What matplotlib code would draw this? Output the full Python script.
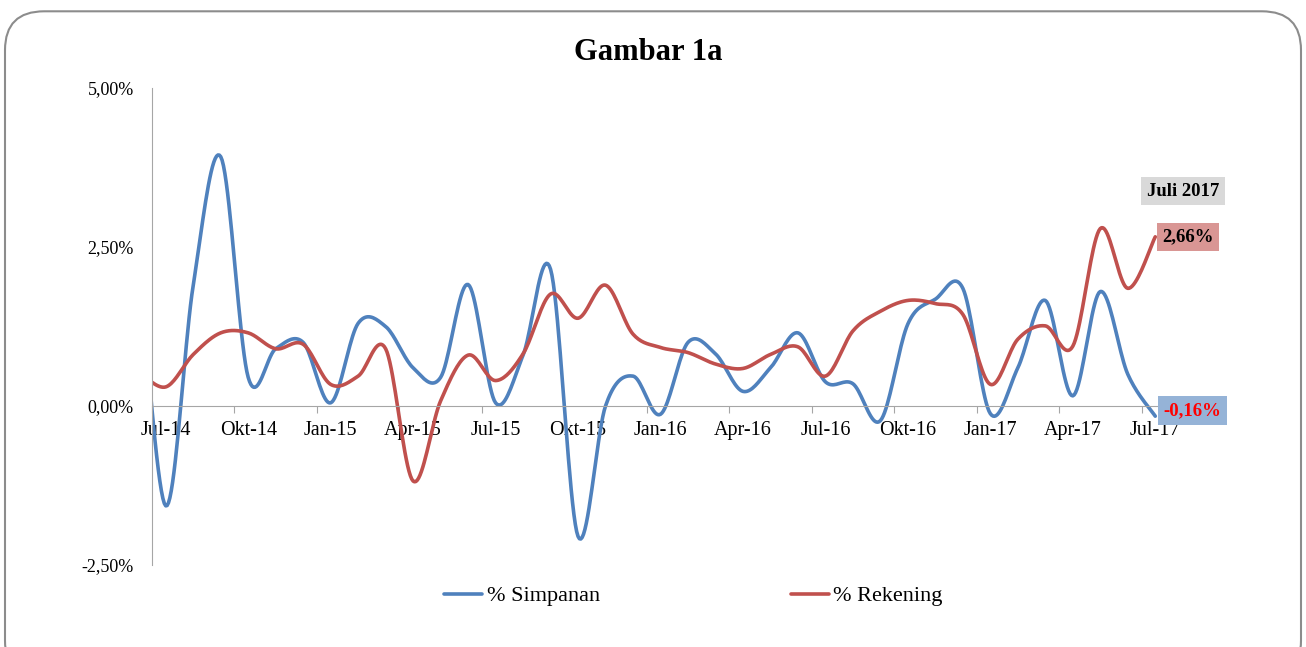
import numpy as np
import matplotlib
matplotlib.use("Agg")
import matplotlib.pyplot as plt
from matplotlib.patches import FancyBboxPatch

months = ["Jul-14","Agu-14","Sep-14","Okt-14","Nov-14","Des-14","Jan-15","Feb-15","Mar-15",
          "Apr-15","Mei-15","Jun-15","Jul-15","Agu-15","Sep-15","Okt-15","Nov-15","Des-15",
          "Jan-16","Feb-16","Mar-16","Apr-16","Mei-16","Jun-16","Jul-16","Agu-16","Sep-16",
          "Okt-16","Nov-16","Des-16","Jan-17","Feb-17","Mar-17","Apr-17","Mei-17","Jun-17","Jul-17"]

# value of the month before Jul-14 (line enters the plot from the left edge)
simpanan_prev = 2.48
rekening_prev = 0.55

simpanan = [-1.57, 1.9, 3.92, 0.45, 0.9, 1.0, 0.05, 1.3, 1.25, 0.6, 0.45, 1.91,
            0.05, 0.8, 2.15, -2.05, 0.0, 0.47, -0.13, 1.0, 0.82, 0.23, 0.6, 1.15,
            0.38, 0.35, -0.23, 1.29, 1.68, 1.85, -0.12, 0.6, 1.66, 0.16, 1.8, 0.5, -0.16]

rekening = [0.3, 0.81, 1.15, 1.15, 0.9, 0.97, 0.34, 0.47, 0.9, -1.18, 0.08, 0.8,
            0.4, 0.82, 1.76, 1.38, 1.9, 1.13, 0.92, 0.84, 0.66, 0.59, 0.81, 0.93,
            0.47, 1.18, 1.49, 1.66, 1.61, 1.44, 0.34, 1.05, 1.26, 0.94, 2.79, 1.85, 2.66]

yticks = [-2.5, 0.0, 2.5, 5.0]
ytick_labels = ["-2,50%", "0,00%", "2,50%", "5,00%"]
xlabel_idx = list(range(0, 37, 3))

BLUE = "#4F81BD"
RED = "#C0504D"


def smooth(xs, ys, n=20):
    """Excel-like smoothed line (uniform Catmull-Rom / Bezier with 1/6 tension)."""
    xs = np.asarray(xs, float)
    ys = np.asarray(ys, float)
    P = np.column_stack([xs, ys])
    P = np.vstack([P[0], P, P[-1]])
    out = []
    t = np.linspace(0, 1, n, endpoint=False)[:, None]
    for i in range(1, len(P) - 2):
        p0, p1, p2, p3 = P[i - 1], P[i], P[i + 1], P[i + 2]
        c1 = p1 + (p2 - p0) / 6.0
        c2 = p2 - (p3 - p1) / 6.0
        seg = ((1 - t) ** 3) * p1 + 3 * ((1 - t) ** 2) * t * c1 + 3 * (1 - t) * t ** 2 * c2 + t ** 3 * p2
        out.append(seg)
    out.append(P[-2][None, :])
    out = np.vstack(out)
    return out[:, 0], out[:, 1]


serif = ["Liberation Serif", "DejaVu Serif"]
plt.rcParams["font.family"] = serif

fig = plt.figure(figsize=(13.06, 6.47), dpi=100)
fig.patch.set_facecolor("white")

# rounded chart border
border = FancyBboxPatch((5 / 1306, -0.05), 1296 / 1306, (647 - 10) / 647 + 0.05 - 0.002,
                        boxstyle="round,pad=0,rounding_size=0.03",
                        transform=fig.transFigure, facecolor="none",
                        edgecolor="#8c8c8c", linewidth=1.5, mutation_aspect=2.0)
fig.patches.append(border)

ax = fig.add_axes([152 / 1306, 1 - 565 / 647, (1169 - 152) / 1306, (565 - 88) / 647])
ax.set_xlim(0, 37)
ax.set_ylim(-2.5, 5.0)

xpos = np.arange(len(months)) + 0.5
xs_b, ys_b = smooth(np.concatenate([[-0.5], xpos]), np.concatenate([[simpanan_prev], simpanan]))
xs_r, ys_r = smooth(np.concatenate([[-0.5], xpos]), np.concatenate([[rekening_prev], rekening]))
ax.plot(xs_b, ys_b, color=BLUE, lw=2.6, solid_capstyle="round", label="% Simpanan", clip_on=True)
ax.plot(xs_r, ys_r, color=RED, lw=2.6, solid_capstyle="round", label="% Rekening", clip_on=True)

for s in ["top", "right"]:
    ax.spines[s].set_visible(False)
ax.spines["left"].set_color("#a6a6a6")
ax.spines["bottom"].set_color("#a6a6a6")
ax.spines["bottom"].set_position(("data", 0))
ax.spines["bottom"].set_bounds(0, 37)

ax.set_yticks(yticks)
ax.set_yticklabels(ytick_labels, fontsize=13)
ax.tick_params(axis="y", length=0, pad=13)

ax.set_xticks(np.arange(0, 37, 3))
ax.set_xticklabels([])
ax.tick_params(axis="x", which="major", length=5, direction="out", color="#a6a6a6")
ax.set_xticks(xpos[xlabel_idx], minor=True)
ax.set_xticklabels([months[i] for i in xlabel_idx], minor=True, fontsize=14.5)
ax.tick_params(axis="x", which="minor", length=0, pad=11)

fig.text(0.496, 1 - 52 / 647, "Gambar 1a", ha="center", va="center",
         fontsize=22, fontweight="bold")

# end labels
ax.annotate("Juli 2017", xy=(xpos[-1], 3.38), xytext=(-6, 0), textcoords="offset points",
            ha="left", va="center", fontsize=13.5, fontweight="bold",
            bbox=dict(boxstyle="square,pad=0.3", fc="#d9d9d9", ec="none"), annotation_clip=False)
ax.annotate("2,66%", xy=(xpos[-1], rekening[-1]), xytext=(5, 0), textcoords="offset points",
            ha="left", va="center", fontsize=13.5, fontweight="bold",
            bbox=dict(boxstyle="square,pad=0.3", fc="#d99694", ec="none"), annotation_clip=False)
ax.annotate("-0,16%", xy=(xpos[-1], simpanan[-1]), xytext=(6, 4), textcoords="offset points",
            ha="left", va="center", fontsize=13.5, fontweight="bold", color="#ff0000",
            bbox=dict(boxstyle="square,pad=0.3", fc="#95b3d7", ec="none"), annotation_clip=False)

fig.legend(loc="center", bbox_to_anchor=(0.531, 1 - 596 / 647), ncol=2, frameon=False,
           fontsize=16, handlelength=1.7, handletextpad=0.2, columnspacing=8.6)

fig.savefig("out.png", dpi=100, facecolor="white")
